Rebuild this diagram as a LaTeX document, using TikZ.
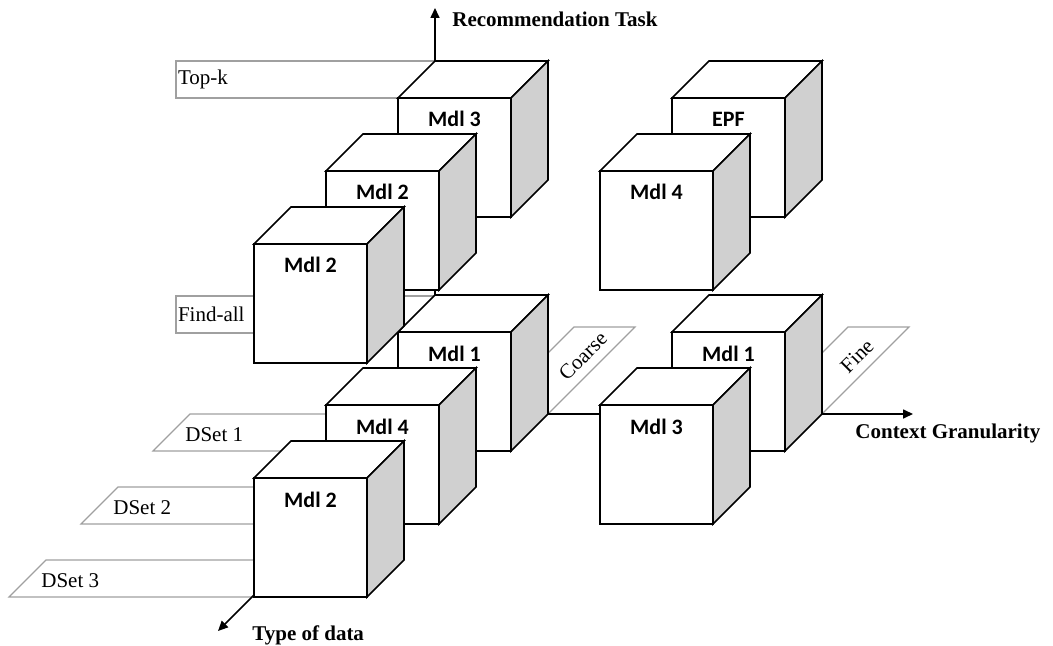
\documentclass[tikz,border=0pt]{standalone}
\usepackage{fontspec}
\setmainfont{Liberation Serif}
\newfontfamily\cubefont{Carlito}
\usetikzlibrary{arrows.meta,calc}

\definecolor{sidegray}{RGB}{208,208,208}
\definecolor{planegray}{RGB}{160,160,160}

% front face as a node, top and side faces hung on its anchors
\newcommand{\mdlcube}[3]{%
  \node[cubefront] (#1) at (#2) {#3};
  \draw[cubeedge, fill=white] (#1.north west) -- ++(37,-37) -- ($(#1.north east)+(37,-37)$) -- (#1.north east) -- cycle;
  \draw[cubeedge, fill=sidegray] (#1.north east) -- ++(37,-37) -- ($(#1.south east)+(37,-37)$) -- (#1.south east) -- cycle;
}

\begin{document}
\begin{tikzpicture}[x=0.5pt, y=-0.5pt,
    cubeedge/.style={draw=black, line width=0.8pt},
    cubefront/.style={cubeedge, fill=white, anchor=north west, outer sep=0pt,
      inner xsep=0pt, inner ysep=7.5pt, minimum width=56.5pt,
      text height=7pt, text depth=37.5pt,
      font=\cubefont\bfseries\fontsize{11}{13}\selectfont},
    planeline/.style={draw=planegray, line width=0.6pt, fill=white},
    planebox/.style={planeline, anchor=north west, outer sep=0pt, inner xsep=1pt,
      inner ysep=0pt, minimum height=18.5pt, text width=127.5pt, align=left,
      font=\fontsize{10.5}{12}\selectfont},
    planetext/.style={inner sep=0pt, font=\fontsize{10.5}{12}\selectfont},
    axis/.style={line width=0.8pt, -{Triangle[length=5pt,width=4.5pt]}},
    axislabel/.style={anchor=west, inner sep=0pt, font=\bfseries\fontsize{10.5}{12}\selectfont}]
  \useasboundingbox (0,0) rectangle (1053,646);

  % label planes
  \node[planebox] (topk) at (176,61) {Top-k};
  \node[planebox] (findall) at (176,296) {Find-all};
  \foreach \k/\lab in {0/DSet 1,1/DSet 2,2/DSet 3}{
    \draw[planeline] ({153-72*\k},{451+73*\k}) -- ++(245,0) -- ++(37,-37) -- ++(-245,0) -- cycle;
    \node[planetext, anchor=west] (dset\k) at ({185-72*\k},{435+73*\k}) {\lab};
  }
  \foreach \i/\lab in {0/Coarse,1/Fine}{
    \draw[planeline] ({548+274*\i},414) -- ++(87,-87) -- ++(-61,0) -- ++(-87,87) -- cycle;
    \node[planetext, rotate=45] (gran\i) at ({583+274*\i},356) {\lab};
  }

  % axes
  \coordinate (O) at (435,414);
  \coordinate (tasktip) at (435,8);
  \coordinate (ctxtip) at (913,414);
  \coordinate (datatip) at (218,631);
  \draw[axis] (O) -- (tasktip);
  \draw[axis] (O) -- (ctxtip);
  \draw[axis] (O) -- (datatip);
  \node[axislabel] (tasklbl) at (452,19) {Recommendation Task};
  \node[axislabel] (ctxlbl) at (855,433) {Context Granularity};
  \node[axislabel] (datalbl) at (252,635) {Type of data};

  % cubes, back to front
  \mdlcube{low0}{398,332}{Mdl 1}
  \mdlcube{up0}{398,98}{Mdl 3}
  \mdlcube{rlow0}{672,332}{Mdl 1}
  \mdlcube{rup0}{672,98}{EPF}

  \mdlcube{low1}{326,405}{Mdl 4}
  \mdlcube{up1}{326,171}{Mdl 2}
  \mdlcube{rlow1}{600,405}{Mdl 3}
  \mdlcube{rup1}{600,171}{Mdl 4}

  \mdlcube{low2}{254,478}{Mdl 2}
  \mdlcube{up2}{254,244}{Mdl 2}
\end{tikzpicture}
\end{document}
